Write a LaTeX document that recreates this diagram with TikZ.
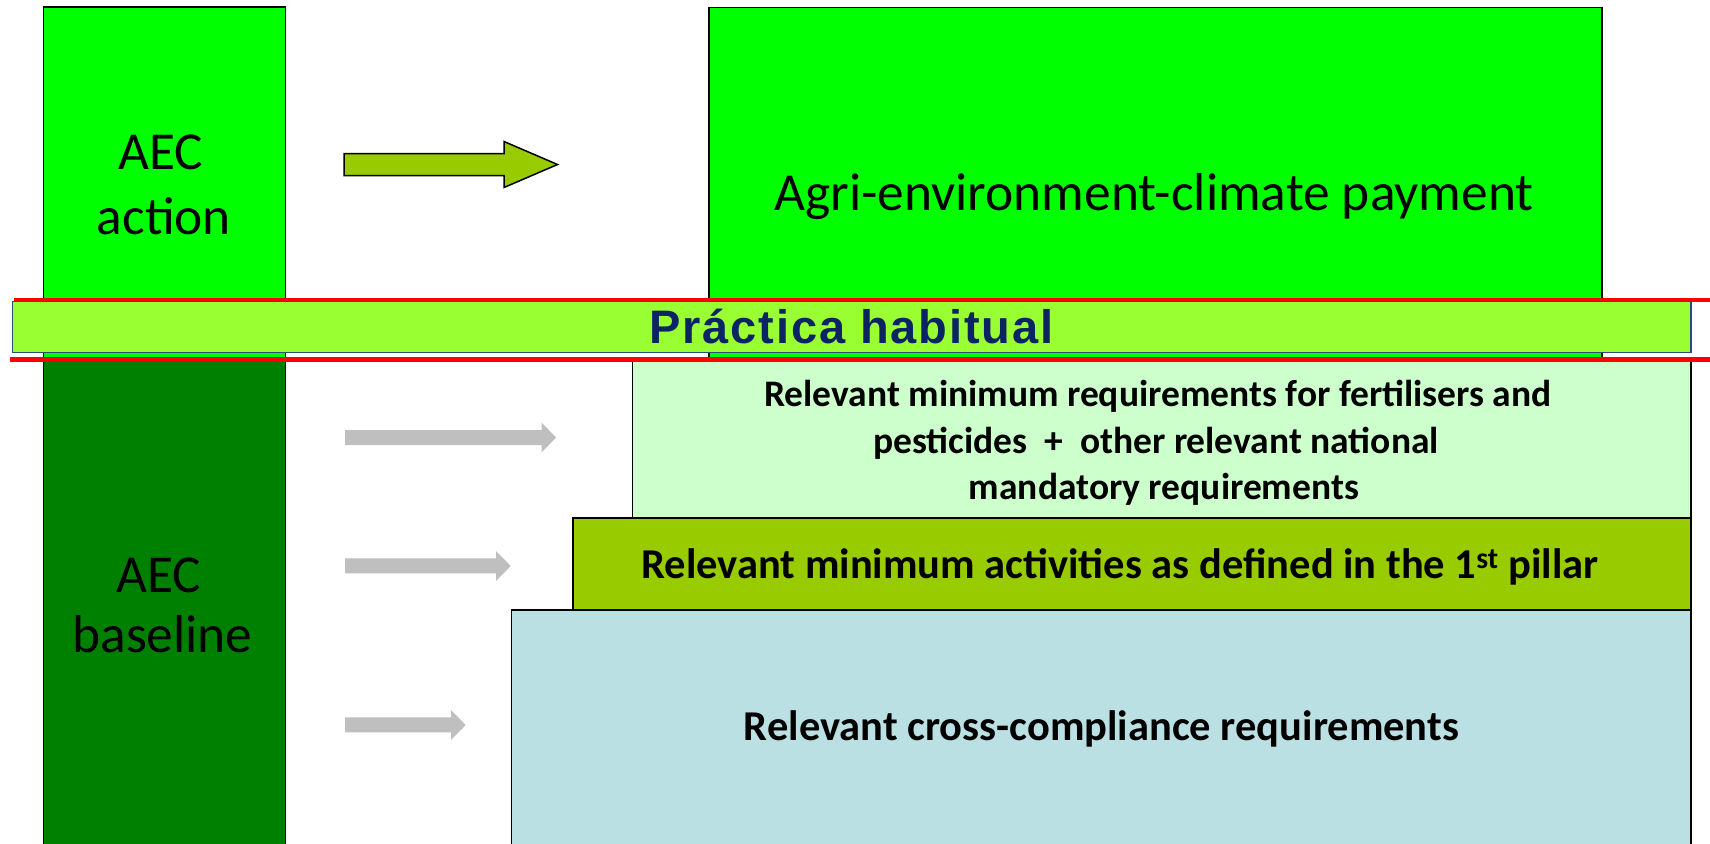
\documentclass[tikz,border=0pt]{standalone}
\usepackage{fontspec}
\setmainfont{Carlito}
\newfontfamily\pracfont[LetterSpace=4]{Liberation Sans}
\definecolor{brightgreen}{HTML}{00FF00}
\definecolor{darkgreen}{HTML}{008000}
\definecolor{olivegreen}{HTML}{99CC00}
\definecolor{palegreen}{HTML}{CCFFCC}
\definecolor{paleblue}{HTML}{BBE0E3}
\definecolor{barfill}{HTML}{99FF33}
\definecolor{barline}{HTML}{2B4C7E}
\definecolor{navytext}{HTML}{0C2364}
\definecolor{arrowgray}{HTML}{BFBFBF}
\definecolor{redline}{HTML}{FF0000}
\tikzset{
  blockbox/.style={draw=black, line width=1.5pt},
  bigtext/.style={font=\fontsize{53.4}{60}\selectfont, anchor=base, inner sep=0pt, text=black},
  boldtext/.style={font=\fontsize{42.5}{50}\selectfont\bfseries, anchor=base, inner sep=0pt, text=black},
  reqtext/.style={font=\fontsize{37.5}{46}\selectfont\bfseries, anchor=base, inner sep=0pt, text=black},
  redrule/.style={draw=redline},
  grayarrow/.style={fill=arrowgray, draw=none},
  greenarrow/.style={fill=olivegreen, draw=black, line width=1.5pt, line join=miter},
}
\begin{document}
\begin{tikzpicture}[x=1pt,y=-1pt]
\useasboundingbox (0,0) rectangle (1710,843);
\begin{scope}
\clip (0,0) rectangle (1710,843);
% left column
\fill[brightgreen] (43.5,7) rectangle (285.5,360);
\draw[blockbox] (43.5,860) -- (43.5,7) -- (285.5,7) -- (285.5,860);
\fill[darkgreen] (43.5,360) rectangle (285.5,860);
\draw[blockbox] (43.5,355) -- (43.5,860) (285.5,355) -- (285.5,860);
\node[inner sep=0pt, minimum width=242pt, minimum height=353pt, anchor=north west] (actbox) at (43.5,7) {};
\node[inner sep=0pt, minimum width=242pt, minimum height=490pt, anchor=north west] (basebox) at (43.5,360) {};
% right boxes
\node[blockbox, fill=brightgreen, inner sep=0pt, minimum width=893pt, minimum height=353pt, anchor=north west] (paybox) at (708,7) {};
\node[blockbox, fill=palegreen, inner sep=0pt, minimum width=1058.5pt, minimum height=157pt, anchor=north west] (reqbox) at (631.5,360) {};
\node[blockbox, fill=paleblue, inner sep=0pt, minimum width=1179.5pt, minimum height=250pt, anchor=north west] (ccbox) at (510.5,609) {};
\node[blockbox, fill=olivegreen, inner sep=0pt, minimum width=1118pt, minimum height=92pt, anchor=north west] (minbox) at (572,517) {};
% red lines and bar
\coordinate (redA1) at (14,299.5);
\coordinate (redA2) at (1710,299.5);
\coordinate (redB1) at (10,359.5);
\coordinate (redB2) at (1710,359.5);
\draw[redrule, line width=4pt] (redA1) -- (redA2);
\draw[redrule, line width=5pt] (redB1) -- (redB2);
\node[draw=barline, fill=barfill, line width=1.5pt, inner sep=0pt, minimum width=1678.5pt, minimum height=51pt, anchor=north west] (bar) at (11.5,300.7) {};
\node[font=\pracfont\bfseries\fontsize{47}{52}\selectfont, text=navytext, anchor=base, inner sep=0pt] (prac) at (851.5,343) {Práctica habitual};
% green block arrow
\draw[greenarrow] (344,153.5) -- (504,153.5) -- (504,141.5) -- (557.5,164.5) -- (504,187.5) -- (504,175.5) -- (344,175.5) -- cycle;
% gray arrows
\fill[grayarrow] (345,430) -- (541.7,430) -- (541.7,422.7) -- (556,437.5) -- (541.7,452.3) -- (541.7,445) -- (345,445) -- cycle;
\fill[grayarrow] (345,558.3) -- (496,558.3) -- (496,551) -- (510.7,566) -- (496,581) -- (496,573.3) -- (345,573.3) -- cycle;
\fill[grayarrow] (345,717.3) -- (451,717.3) -- (451,710) -- (465.7,725) -- (451,740) -- (451,732.3) -- (345,732.3) -- cycle;
% texts
\node[bigtext] (aec1) at (161,169) {AEC};
\node[bigtext] (aec2) at (164,234) {action};
\node[bigtext] (aec3) at (159,592) {AEC};
\node[bigtext] (aec4) at (162.5,652) {baseline};
\node[bigtext] (paytext) at (1154,210.5) {Agri-environment-climate payment};
\node[reqtext] (req1) at (1158,406.5) {Relevant minimum requirements for fertilisers and};
\node[reqtext] (req2) at (1156,453.5) {pesticides\ \ +\ \ other relevant national};
\node[reqtext] (req3) at (1164,499.5) {mandatory requirements};
\node[boldtext] (mintext) at (1120,578) {Relevant minimum activities as defined in the 1\textsuperscript{st} pillar};
\node[boldtext] (cctext) at (1101.5,740.5) {Relevant cross-compliance requirements};
\end{scope}
\end{tikzpicture}
\end{document}
